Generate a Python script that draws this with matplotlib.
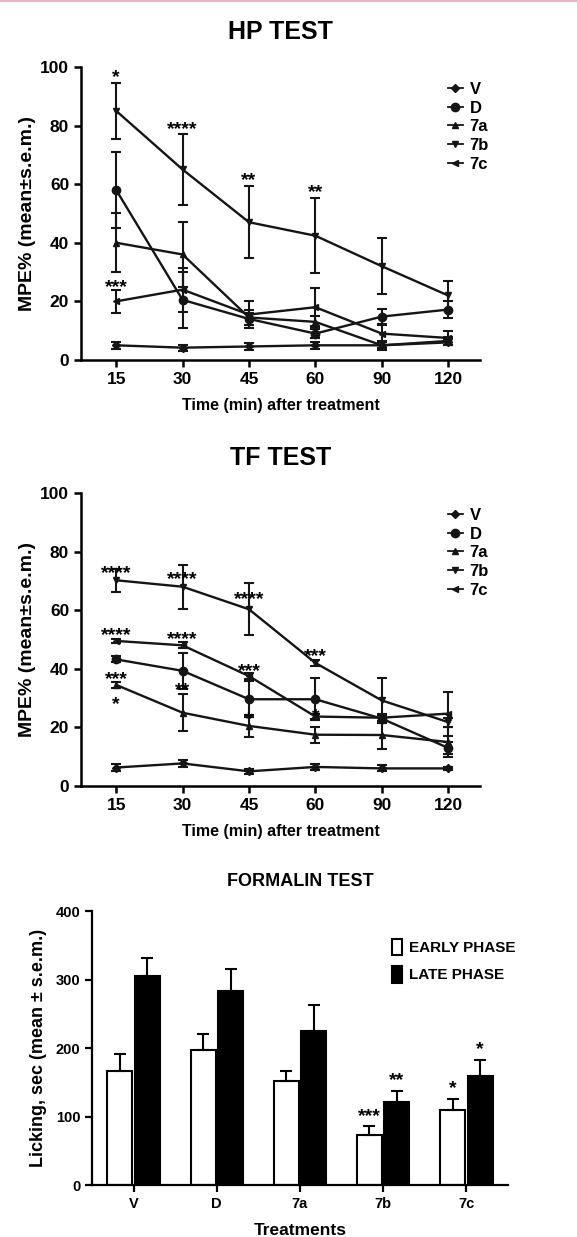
import numpy as np
import matplotlib
matplotlib.use("Agg")
import matplotlib.pyplot as plt
from matplotlib.lines import Line2D
from matplotlib.patches import Patch

plt.rcParams["font.family"] = ["Liberation Sans", "DejaVu Sans"]
plt.rcParams["font.weight"] = "bold"

# ---- data ----
times = ["15", "30", "45", "60", "90", "120"]
groups = ["V", "D", "7a", "7b", "7c"]

# HP test, MPE% mean and s.e.m.
hp_mean = {
    "V":  [5.0, 4.2, 4.6, 5.0, 5.0, 6.0],
    "D":  [58.0, 20.5, 14.0, 9.0, 14.8, 17.2],
    "7a": [40.0, 36.0, 14.5, 13.0, 5.0, 6.5],
    "7b": [85.0, 65.0, 47.0, 42.4, 32.0, 22.0],
    "7c": [20.0, 24.0, 15.5, 18.0, 9.0, 7.5],
}
hp_sem = {
    "V":  [1.2, 1.0, 1.2, 1.2, 1.0, 1.0],
    "D":  [13.0, 9.5, 2.0, 1.5, 2.5, 2.8],
    "7a": [10.0, 11.0, 2.5, 2.0, 1.5, 1.5],
    "7b": [9.6, 12.0, 12.2, 12.8, 9.5, 5.0],
    "7c": [4.0, 7.5, 4.5, 6.5, 3.0, 2.5],
}
hp_stars = [(0, 98.5, "*"), (0, 27.0, "***"), (1, 81.0, "****"),
            (2, 63.5, "**"), (3, 59.5, "**")]

# TF test, MPE% mean and s.e.m.
tf_mean = {
    "V":  [6.3, 7.7, 5.0, 6.5, 6.0, 6.0],
    "D":  [43.2, 39.3, 29.6, 29.6, 23.0, 13.0],
    "7a": [34.5, 25.0, 20.5, 17.5, 17.4, 15.0],
    "7b": [70.2, 68.0, 60.3, 42.0, 29.2, 21.8],
    "7c": [49.5, 48.0, 37.5, 23.7, 23.3, 24.7],
}
tf_sem = {
    "V":  [1.2, 1.2, 0.8, 1.0, 1.0, 0.6],
    "D":  [1.0, 6.2, 6.2, 7.1, 1.5, 2.0],
    "7a": [1.0, 6.3, 3.8, 2.8, 4.8, 5.0],
    "7b": [3.9, 7.5, 8.8, 1.0, 7.8, 1.5],
    "7c": [0.8, 1.0, 1.0, 1.0, 1.0, 7.5],
}
tf_stars = [(0, 74.7, "****"), (0, 53.7, "****"), (0, 38.7, "***"), (0, 30.0, "*"),
            (1, 72.8, "****"), (1, 52.3, "****"), (1, 34.7, "**"),
            (2, 65.9, "****"), (2, 41.2, "***"), (2, 25.0, "*"),
            (3, 46.5, "***"), (3, 26.0, "*")]

# Formalin test, licking time (s)
early_mean = [167, 197, 152, 73, 110]
early_sem = [24, 23, 14, 13, 16]
late_mean = [305, 283, 225, 121, 159]
late_sem = [26, 33, 38, 17, 24]
early_stars = ["", "", "", "***", "*"]
late_stars = ["", "", "", "**", "*"]

markers = {"V": "D", "D": "o", "7a": "^", "7b": "v", "7c": "<"}
msizes = {"V": 4, "D": 6, "7a": 4, "7b": 4, "7c": 4}
INK = "#151515"


def style_axes(ax, lw=1.8):
    for s in ["top", "right"]:
        ax.spines[s].set_visible(False)
    for s in ["left", "bottom"]:
        ax.spines[s].set_linewidth(lw)
    ax.tick_params(width=lw, length=5, labelsize=12.5)
    for lab in ax.get_xticklabels() + ax.get_yticklabels():
        lab.set_fontweight("bold")


def star(ax, x, y, t, dy=-8):
    # dy shifts the baseline so the asterisk glyph sits on (x, y)
    ax.annotate(t, (x, y), xytext=(0, dy), textcoords="offset points",
                ha="center", va="baseline", fontsize=14, fontweight="bold")


def line_panel(ax, means, sems, stars, title):
    x = np.arange(len(times))
    for g in groups:
        ax.errorbar(x, means[g], yerr=sems[g], color=INK, lw=1.7,
                    marker=markers[g], ms=msizes[g], capsize=3.5,
                    elinewidth=1.5, capthick=1.5)
    for xi, yv, t in stars:
        star(ax, xi, yv, t)
    ax.set_xlim(-0.53, 5.48)
    ax.set_ylim(0, 100)
    ax.set_yticks([0, 20, 40, 60, 80, 100])
    ax.set_xticks(x)
    ax.set_xticklabels(times)
    ax.set_ylabel("MPE% (mean±s.e.m.)", fontsize=14, fontweight="bold",
                  labelpad=3)
    ax.set_xlabel("Time (min) after treatment", fontsize=11.5,
                  fontweight="bold", labelpad=8)
    ax.set_title(title, fontsize=18, fontweight="bold", pad=20)
    handles = [Line2D([0], [0], color=INK, lw=1.3, marker=markers[g],
                      ms=msizes[g]) for g in groups]
    ax.legend(handles, groups, loc="upper right", bbox_to_anchor=(1.06, 1.0),
              frameon=False, handlelength=0.9, handletextpad=0.4,
              labelspacing=0.22, prop={"weight": "bold", "size": 12})
    style_axes(ax)


fig = plt.figure(figsize=(5.77, 12.37), dpi=100)
fig.add_artist(Line2D([0, 1], [0.9995, 0.9995], color="#e8b4c8", lw=1.5))

ax1 = fig.add_axes([0.1404, 0.7090, 0.6915, 0.2369])
line_panel(ax1, hp_mean, hp_sem, hp_stars, "HP TEST")

ax2 = fig.add_axes([0.1404, 0.3646, 0.6915, 0.2369])
line_panel(ax2, tf_mean, tf_sem, tf_stars, "TF TEST")

# Formalin bar chart
ax3 = fig.add_axes([0.1594, 0.0420, 0.721, 0.2215])
xb = np.arange(len(groups))
w = 0.3
off = 0.165
ax3.bar(xb - off, early_mean, w, color="white", edgecolor="black", lw=1.5,
        yerr=[np.zeros(len(groups)), early_sem], capsize=4,
        error_kw=dict(elinewidth=1.5, capthick=1.5), label="EARLY PHASE")
ax3.bar(xb + off, late_mean, w, color="black", edgecolor="black", lw=1.5,
        yerr=[np.zeros(len(groups)), late_sem], capsize=4,
        error_kw=dict(elinewidth=1.5, capthick=1.5), label="LATE PHASE")
for i in range(len(groups)):
    if early_stars[i]:
        star(ax3, xb[i] - off, early_mean[i] + early_sem[i], early_stars[i], dy=4)
    if late_stars[i]:
        star(ax3, xb[i] + off, late_mean[i] + late_sem[i], late_stars[i], dy=4)
ax3.set_xlim(-0.5, 4.5)
ax3.set_ylim(0, 400)
ax3.set_yticks([0, 100, 200, 300, 400])
ax3.set_xticks(xb)
ax3.set_xticklabels(groups)
ax3.set_title("FORMALIN TEST", fontsize=13, fontweight="bold", pad=18)
ax3.set_ylabel("Licking, sec (mean ± s.e.m.)", fontsize=13,
               fontweight="bold", labelpad=6)
ax3.set_xlabel("Treatments", fontsize=12.5, fontweight="bold", labelpad=9)
ax3.legend(handles=[Patch(facecolor="white", edgecolor="black", lw=1.5),
                    Patch(facecolor="black", edgecolor="black", lw=1.5)],
           labels=["EARLY PHASE", "LATE PHASE"], loc="upper right",
           bbox_to_anchor=(1.05, 0.95), frameon=False, handlelength=0.7,
           handleheight=1.3, handletextpad=0.4, labelspacing=0.7,
           prop={"weight": "bold", "size": 11})
style_axes(ax3, lw=1.6)
ax3.tick_params(labelsize=10.5)

fig.savefig("out.png", dpi=100)
